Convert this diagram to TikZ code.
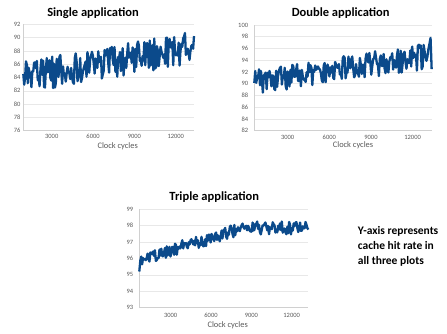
\documentclass[tikz,border=0pt]{standalone}
\usepackage{fontspec}
\setmainfont{Carlito}
\definecolor{serblue}{RGB}{11,74,139}
\definecolor{gridgray}{RGB}{232,232,232}
\definecolor{axisgray}{RGB}{208,208,208}
\definecolor{labgray}{RGB}{89,89,89}
\begin{document}
\begin{tikzpicture}[x=1pt,y=1pt,
  gridln/.style={draw=gridgray, line width=0.6pt},
  axisline/.style={draw=axisgray, line width=0.7pt},
  series/.style={draw=serblue, line width=2.3pt, line join=round},
  ticklab/.style={font=\fontsize{6.5}{7}\selectfont, text=labgray, inner sep=0pt},
  axtitle/.style={font=\fontsize{8.4}{10}\selectfont, text=labgray, inner sep=0pt},
  ptitle/.style={font=\fontsize{12.5}{14}\selectfont\bfseries, inner sep=0pt},
  note/.style={font=\fontsize{11.5}{15}\selectfont\bfseries, align=left, inner sep=0pt}]
\useasboundingbox[fill=white] (0,0) rectangle (447,333);
\pgfmathsetseed{7}
% ---------- Plot 1 ----------
\begin{scope}[shift={(10.4,-303.1)}, x={(0.013778pt,0pt)}, y={(0pt,6.65pt)}]
  \foreach \v in {78,80,...,92} \draw[gridln] (936,\v) -- (13326,\v);
  \draw[axisline] (936,92) -- (936,76) -- (13326,76);
  \foreach \v in {76,78,...,92} \node[ticklab, anchor=east] (ya\v) at ([xshift=-2.7pt]936,\v) {\v};
  \foreach \c in {3000,6000,9000,12000} \node[ticklab] (xa\c) at ([yshift=-5.3pt]\c,76) {\c};
  \draw[series] plot[domain=936:13326, samples=190] (\x, {84+(\x-936)*0.00036+2.4*rand});
\end{scope}
\node[ptitle] (t1) at (93,320.3) {Single application};
\node[axtitle] (c1) at (117.7,187) {Clock cycles};
% ---------- Plot 2 ----------
\begin{scope}[shift={(246.0,-279.2)}, x={(0.013889pt,0pt)}, y={(0pt,5.872pt)}]
  \foreach \v in {84,86,...,100} \draw[gridln] (598,\v) -- (13370,\v);
  \draw[axisline] (598,100) -- (598,82) -- (13370,82);
  \foreach \v in {82,84,...,100} \node[ticklab, anchor=east] (yb\v) at ([xshift=-6pt]598,\v) {\v};
  \foreach \c in {3000,6000,9000,12000} \node[ticklab] (xb\c) at ([yshift=-6.6pt]\c,82) {\c};
  \draw[series] plot[domain=598:13200, samples=185] (\x, {90.3+(\x-598)*0.000346+2.2*rand}) -- (13290,97.8) -- (13370,92.5);
\end{scope}
\node[ptitle] (t2) at (340.7,320.3) {Double application};
\node[axtitle] (c2) at (353,187.3) {Clock cycles};
% ---------- Plot 3 ----------
\begin{scope}[shift={(130.37,-1504.55)}, x={(0.013444pt,0pt)}, y={(0pt,16.45pt)}]
  \foreach \v in {94,...,99} \draw[gridln] (664,\v) -- (13235,\v);
  \draw[axisline] (664,99) -- (664,93) -- (13235,93);
  \foreach \v in {93,...,99} \node[ticklab, anchor=east] (yc\v) at ([xshift=-6pt]664,\v) {\v};
  \foreach \c in {3000,6000,9000,12000} \node[ticklab] (xc\c) at ([yshift=-8pt]\c,93) {\c};
  \draw[series] (664,95.2) -- plot[domain=740:13235, samples=185] (\x, {min(95.95+(\x-740)*0.00024,97.85)+0.4*rand});
\end{scope}
\node[ptitle] (t3) at (214.3,135.7) {Triple application};
\node[axtitle] (c3) at (227.7,7.3) {Clock cycles};
% ---------- Note ----------
\node[note, anchor=west] (nt) at (357.7,86.3) {Y-axis represents\\cache hit rate in\\all three plots};
\end{tikzpicture}
\end{document}
